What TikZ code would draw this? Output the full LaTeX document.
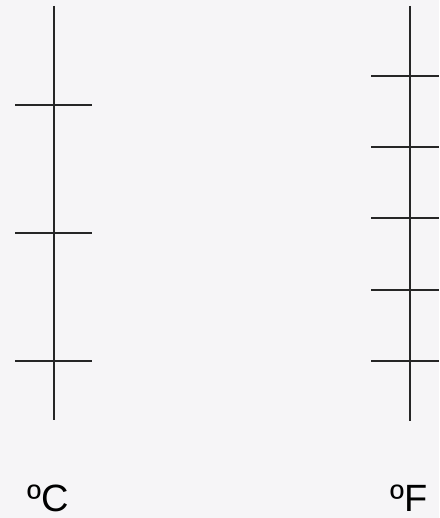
\documentclass[tikz,border=0pt]{standalone}
\usepackage{fontspec}
\setmainfont{Liberation Sans}
\definecolor{bg}{HTML}{F6F5F7}
\definecolor{ln}{HTML}{262626}
\begin{document}
\begin{tikzpicture}[x=1pt,y=-1pt,
  scaleline/.style={draw=ln,line width=1.2pt},
  lbl/.style={inner sep=0pt,anchor=base,font=\fontsize{38}{38}\selectfont,text=black}]
\fill[bg] (0,0) rectangle (439,518);
\useasboundingbox (0,0) rectangle (439,518);
% Celsius scale
\draw[scaleline] (54,6) -- (54,420);
\foreach \y in {105,233,361} \draw[scaleline] (15,\y) -- (92,\y);
% Fahrenheit scale
\draw[scaleline] (410,6) -- (410,421);
\foreach \y in {76,147,218,290,361} \draw[scaleline] (371,\y) -- (439,\y);
\node[lbl] (c) at (48.5,511) {ºC};
\node[lbl] (f) at (409.5,511) {ºF};
\end{tikzpicture}
\end{document}
